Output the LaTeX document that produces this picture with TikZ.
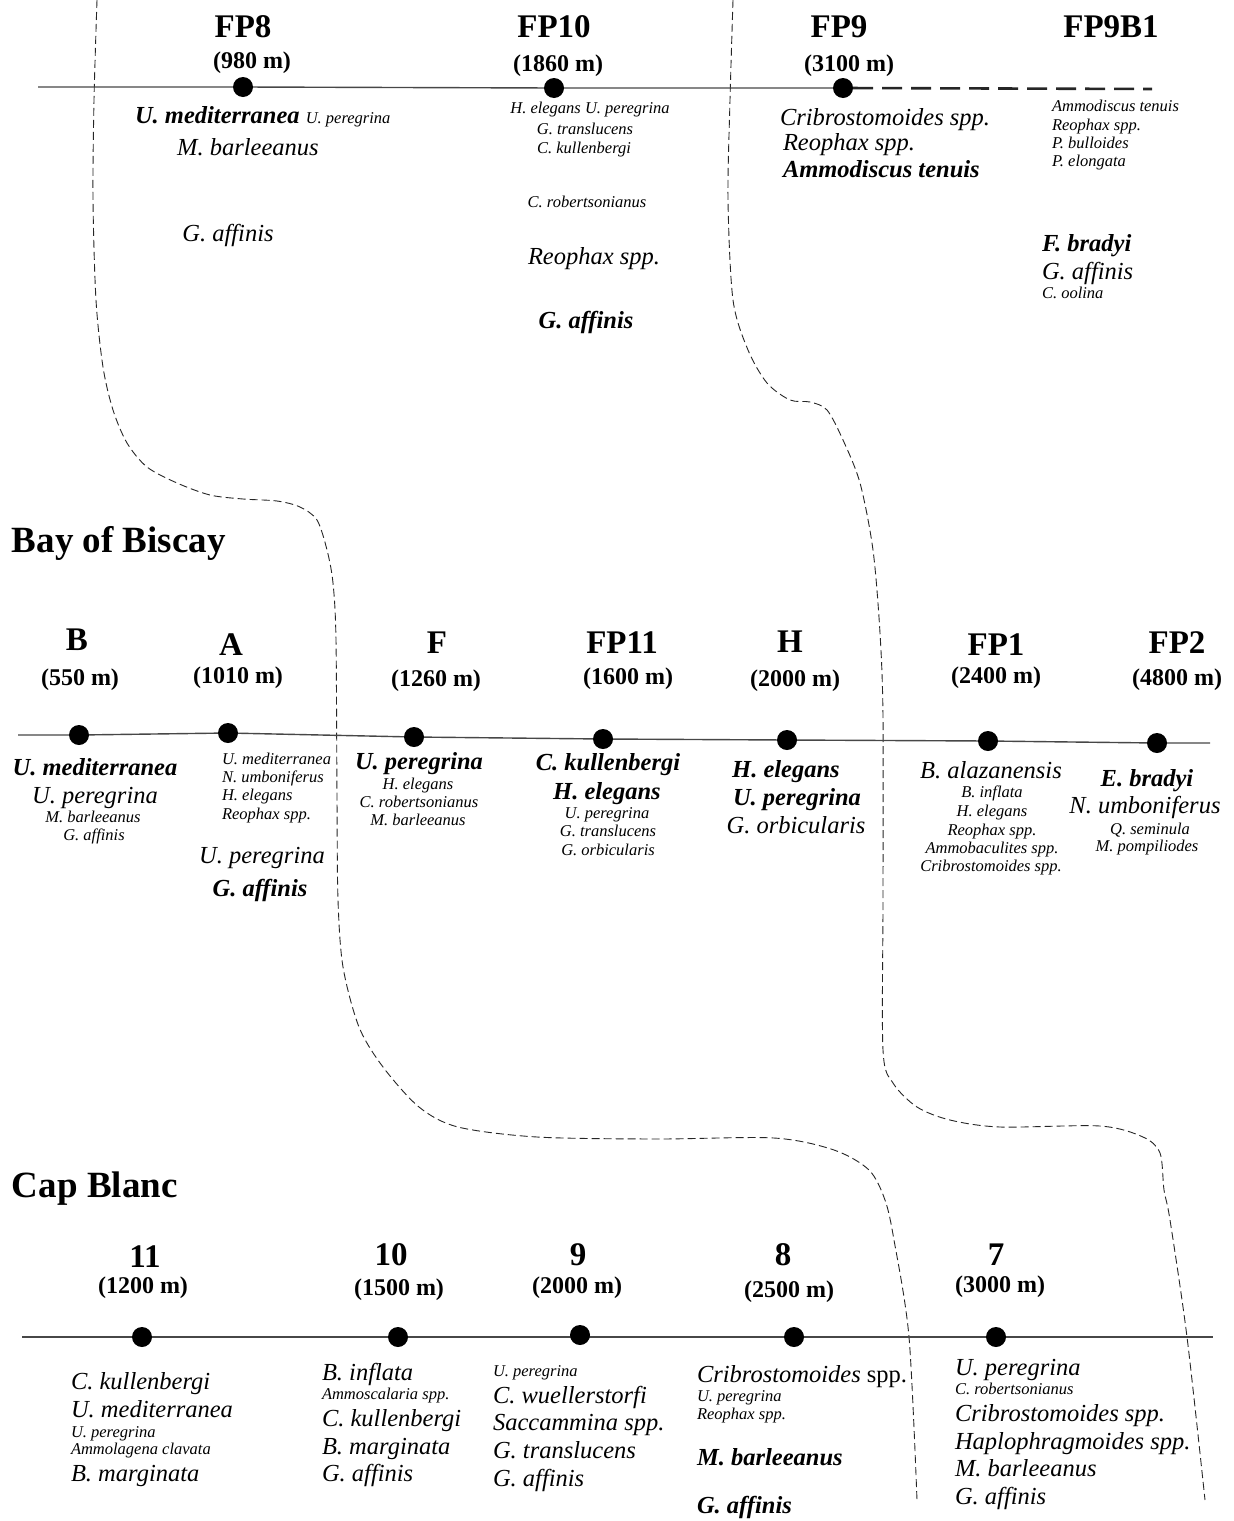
\documentclass[tikz,border=0pt]{standalone}
\usepackage{fontspec}
\setmainfont{Liberation Serif}
\begin{document}
\begin{tikzpicture}[x=1pt,y=-1pt,
  every node/.style={inner sep=0pt,outer sep=0pt},
  hdr/.style={font=\fontsize{33}{33}\selectfont\bfseries,anchor=base},
  dep/.style={font=\fontsize{24}{24}\selectfont\bfseries,anchor=base},
  ttl/.style={font=\fontsize{37}{37}\selectfont\bfseries,anchor=base west,yshift=-12pt},
  Lsp/.style={font=\fontsize{24.5}{25}\selectfont\itshape,anchor=base,yshift=-8pt},
  LBsp/.style={font=\fontsize{24.5}{25}\selectfont\bfseries\itshape,anchor=base,yshift=-8pt},
  Ssp/.style={font=\fontsize{16.5}{17}\selectfont\itshape,anchor=base,yshift=-5.5pt},
  lft/.style={anchor=base west},
  dot/.style={circle,fill=black,minimum size=20pt,inner sep=0pt},
  bl/.style={line width=1.4pt,draw=black!72},
  bnd/.style={dash pattern=on 8pt off 4pt,line width=0.9pt,draw=black!85},
  bdash/.style={line width=2.6pt,dash pattern=on 20pt off 9pt,draw=black!85}
]
\useasboundingbox (0,0) rectangle (1234,1521);

% ---------------- boundary curves ----------------
\draw[bnd] plot[smooth,tension=0.5] coordinates {
 (97,0) (94,100) (93,200) (96,300) (103,367) (113,410) (127,443) (147,467)
 (177,483) (210,495) (243,499) (277,501) (300,507) (317,520) (327,550)
 (333,583) (336,640) (337,800) (338,900) (343,967) (359,1027) (383,1067)
 (419,1107) (458,1127) (537,1137) (656,1139) (774,1138) (834,1150)
 (869,1170) (885,1200) (894,1240) (909,1337) (917,1500)};
\draw[bnd] plot[smooth,tension=0.5] coordinates {
 (733,0) (730,100) (728,200) (733,300) (748,350) (767,383) (790,400)
 (810,402) (827,410) (843,440) (860,483) (873,550) (880,633) (883,717)
 (883,900) (883,1050) (893,1083) (917,1107) (950,1120) (1000,1127)
 (1100,1126) (1143,1137) (1160,1153) (1164,1190) (1170,1220) (1187,1337)
 (1205,1500)};

% ---------------- titles ----------------
\node[ttl] (bob) at (12,540) {Bay of Biscay};
\node[ttl] (cb) at (12,1185) {Cap Blanc};

% ---------------- top transect ----------------
\coordinate (tL) at (38,87);
\coordinate (tR) at (1152,89);
\node[dot] (dFP8) at (243,87) {};
\node[dot] (dFP10) at (554,88) {};
\node[dot] (dFP9) at (843,88) {};
\draw[bl] (tL) -- (dFP8) -- (dFP10) -- (dFP9);
\draw[bdash] (dFP9) -- (tR);

\node[hdr] (hFP8) at (243,37) {FP8};
\node[dep] (zFP8) at (252,68) {(980 m)};
\node[hdr] (hFP10) at (554,37) {FP10};
\node[dep] (zFP10) at (558,71) {(1860 m)};
\node[hdr] (hFP9) at (839,37) {FP9};
\node[dep] (zFP9) at (849,71) {(3100 m)};
\node[hdr] (hFP9B1) at (1111,37) {FP9B1};

\node[LBsp,lft] (a1) at (135,115) {U. mediterranea {\mdseries\fontsize{16.5}{17}\selectfont U. peregrina}};
\node[Lsp] (a2) at (248,147) {M. barleeanus};
\node[Lsp] (a3) at (228,233) {G. affinis};

\node[Ssp] (b1) at (590,108) {H. elegans U. peregrina};
\node[Ssp] (b2) at (585,129) {G. translucens};
\node[Ssp] (b3) at (584,148) {C. kullenbergi};
\node[Ssp] (b4) at (587,202) {C. robertsonianus};
\node[Lsp] (b5) at (594,256) {Reophax spp.};
\node[LBsp] (b6) at (586,320) {G. affinis};

\node[Lsp,lft] (c1) at (780,117) {Cribrostomoides spp.};
\node[Lsp,lft] (c2) at (783,142) {Reophax spp.};
\node[LBsp,lft] (c3) at (783,169) {Ammodiscus tenuis};

\node[Ssp,lft] (e1) at (1052,106) {Ammodiscus tenuis};
\node[Ssp,lft] (e2) at (1052,125) {Reophax spp.};
\node[Ssp,lft] (e3) at (1052,143) {P. bulloides};
\node[Ssp,lft] (e4) at (1052,161) {P. elongata};
\node[LBsp,lft] (e5) at (1042,243) {F. bradyi};
\node[Lsp,lft] (e6) at (1042,271) {G. affinis};
\node[Ssp,lft] (e7) at (1042,293) {C. oolina};

% ---------------- Bay of Biscay transect ----------------
\coordinate (mL) at (18,735);
\coordinate (mR) at (1210,743);
\node[dot] (dB) at (79,735) {};
\node[dot] (dA) at (228,733) {};
\node[dot] (dF) at (414,737) {};
\node[dot] (dFP11) at (603,739) {};
\node[dot] (dH) at (787,740) {};
\node[dot] (dFP1) at (988,741) {};
\node[dot] (dFP2) at (1157,743) {};
\draw[bl] (mL) -- (dB) -- (dA) -- (dF) -- (dFP11) -- (dH) -- (dFP1) -- (dFP2) -- (mR);

\node[hdr] (hB) at (77,650) {B};
\node[dep] (zB) at (80,685) {(550 m)};
\node[hdr] (hA) at (231,655) {A};
\node[dep] (zA) at (238,683) {(1010 m)};
\node[hdr] (hF) at (437,653) {F};
\node[dep] (zF) at (436,686) {(1260 m)};
\node[hdr] (hFP11) at (622,653) {FP11};
\node[dep] (zFP11) at (628,684) {(1600 m)};
\node[hdr] (hH) at (790,652) {H};
\node[dep] (zH) at (795,686) {(2000 m)};
\node[hdr] (hFP1) at (996,655) {FP1};
\node[dep] (zFP1) at (996,683) {(2400 m)};
\node[hdr] (hFP2) at (1177,653) {FP2};
\node[dep] (zFP2) at (1177,685) {(4800 m)};

\node[LBsp] (g1) at (95,767) {U. mediterranea};
\node[Lsp] (g2) at (95,795) {U. peregrina};
\node[Ssp] (g3) at (93,817) {M. barleeanus};
\node[Ssp] (g4) at (94,835) {G. affinis};

\node[Ssp,lft] (h1) at (222,759) {U. mediterranea};
\node[Ssp,lft] (h2) at (222,777) {N. umboniferus};
\node[Ssp,lft] (h3) at (222,795) {H. elegans};
\node[Ssp,lft] (h4) at (222,814) {Reophax spp.};
\node[Lsp] (h5) at (262,855) {U. peregrina};
\node[LBsp] (h6) at (260,888) {G. affinis};

\node[LBsp] (i1) at (419,761) {U. peregrina};
\node[Ssp] (i2) at (418,784) {H. elegans};
\node[Ssp] (i3) at (419,802) {C. robertsonianus};
\node[Ssp] (i4) at (418,820) {M. barleeanus};

\node[LBsp] (j1) at (608,762) {C. kullenbergi};
\node[LBsp] (j2) at (607,791) {H. elegans};
\node[Ssp] (j3) at (607,813) {U. peregrina};
\node[Ssp] (j4) at (608,831) {G. translucens};
\node[Ssp] (j5) at (608,850) {G. orbicularis};

\node[LBsp] (k1) at (786,769) {H. elegans};
\node[LBsp] (k2) at (797,797) {U. peregrina};
\node[Lsp] (k3) at (796,825) {G. orbicularis};

\node[Lsp] (l1) at (991,770) {B. alazanensis};
\node[Ssp] (l2) at (992,792) {B. inflata};
\node[Ssp] (l3) at (992,811) {H. elegans};
\node[Ssp] (l4) at (992,830) {Reophax spp.};
\node[Ssp] (l5) at (992,848) {Ammobaculites spp.};
\node[Ssp] (l6) at (991,866) {Cribrostomoides spp.};

\node[LBsp] (m1) at (1147,778) {E. bradyi};
\node[Lsp] (m2) at (1145,805) {N. umboniferus};
\node[Ssp] (m3) at (1150,829) {Q. seminula};
\node[Ssp] (m4) at (1147,846) {M. pompiliodes};

% ---------------- Cap Blanc transect ----------------
\coordinate (bL) at (22,1337);
\coordinate (bR) at (1213,1337);
\draw[bl] (bL) -- (bR);
\node[dot] (d11) at (142,1337) {};
\node[dot] (d10) at (398,1337) {};
\node[dot] (d9) at (580,1335) {};
\node[dot] (d8) at (794,1337) {};
\node[dot] (d7) at (996,1337) {};

\node[hdr] (h11) at (145,1267) {11};
\node[dep] (z11) at (143,1293) {(1200 m)};
\node[hdr] (h10) at (391,1265) {10};
\node[dep] (z10) at (399,1295) {(1500 m)};
\node[hdr] (h9) at (578,1265) {9};
\node[dep] (z9) at (577,1293) {(2000 m)};
\node[hdr] (h8) at (783,1265) {8};
\node[dep] (z8) at (789,1297) {(2500 m)};
\node[hdr] (h7) at (996,1265) {7};
\node[dep] (z7) at (1000,1292) {(3000 m)};

\node[Lsp,lft] (n1) at (71,1381) {C. kullenbergi};
\node[Lsp,lft] (n2) at (71,1409) {U. mediterranea};
\node[Ssp,lft] (n3) at (71,1432) {U. peregrina};
\node[Ssp,lft] (n4) at (71,1449) {Ammolagena clavata};
\node[Lsp,lft] (n5) at (71,1473) {B. marginata};

\node[Lsp,lft] (o1) at (322,1372) {B. inflata};
\node[Ssp,lft] (o2) at (322,1394) {Ammoscalaria spp.};
\node[Lsp,lft] (o3) at (322,1418) {C. kullenbergi};
\node[Lsp,lft] (o4) at (322,1446) {B. marginata};
\node[Lsp,lft] (o5) at (322,1473) {G. affinis};

\node[Ssp,lft] (p1) at (493,1371) {U. peregrina};
\node[Lsp,lft] (p2) at (493,1395) {C. wuellerstorfi};
\node[Lsp,lft] (p3) at (493,1422) {Saccammina spp.};
\node[Lsp,lft] (p4) at (493,1450) {G. translucens};
\node[Lsp,lft] (p5) at (493,1478) {G. affinis};

\node[Lsp,lft] (q1) at (697,1374) {Cribrostomoides \upshape spp.};
\node[Ssp,lft] (q2) at (697,1396) {U. peregrina};
\node[Ssp,lft] (q3) at (697,1414) {Reophax spp.};
\node[LBsp,lft] (q4) at (697,1457) {M. barleeanus};
\node[LBsp,lft] (q5) at (697,1505) {G. affinis};

\node[Lsp,lft] (r1) at (955,1367) {U. peregrina};
\node[Ssp,lft] (r2) at (955,1389) {C. robertsonianus};
\node[Lsp,lft] (r3) at (955,1413) {Cribrostomoides spp.};
\node[Lsp,lft] (r4) at (955,1441) {Haplophragmoides spp.};
\node[Lsp,lft] (r5) at (955,1468) {M. barleeanus};
\node[Lsp,lft] (r6) at (955,1496) {G. affinis};
\end{tikzpicture}
\end{document}
